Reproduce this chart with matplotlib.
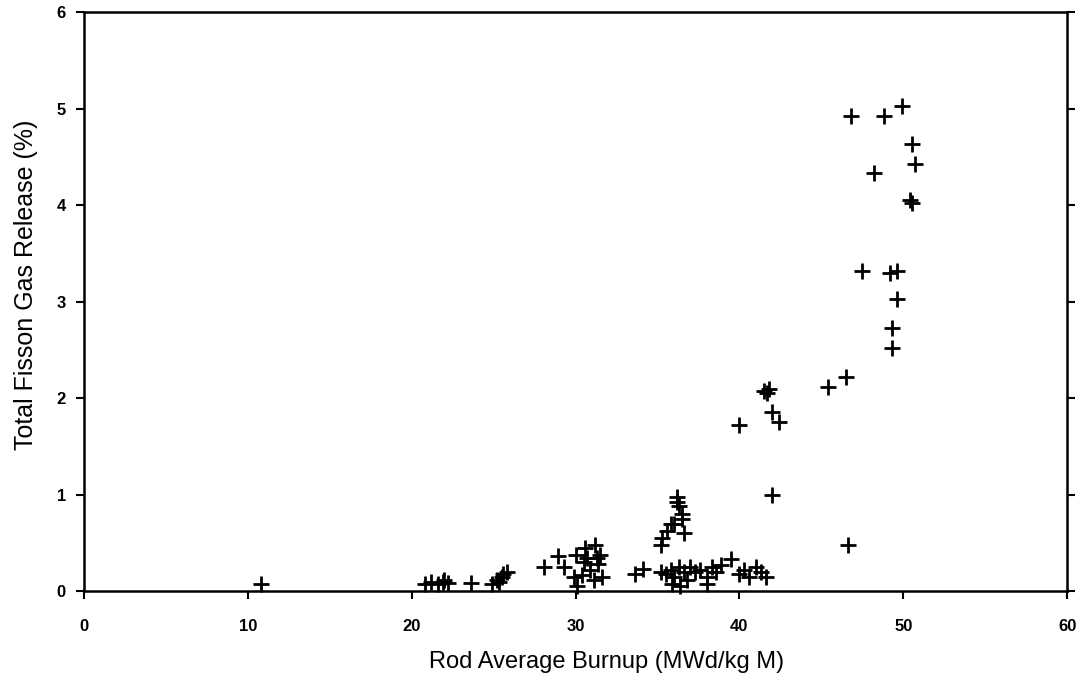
import matplotlib
matplotlib.use("Agg")
import matplotlib.pyplot as plt

plt.rcParams['font.family'] = ['Liberation Sans', 'DejaVu Sans']

# rod average burnup (MWd/kg M) and total fission gas release (%)
burnup = [
    10.8,
    20.8, 21.2, 21.6, 21.9, 22.2, 22.0,
    23.6,
    24.9, 25.2, 25.5, 25.8, 25.6, 25.3,
    28.1, 28.9, 29.3, 30.0, 30.6, 30.7, 31.2, 31.3, 31.4, 29.9, 30.4, 30.9,
    31.6, 30.1, 31.1, 30.5, 31.5,
    33.6, 34.1,
    35.2, 35.5, 35.8, 36.0, 36.3, 36.6, 36.8, 35.9, 36.4, 37.0, 37.3, 37.6,
    38.0, 38.3, 38.6, 38.9, 39.5, 40.0, 40.3, 40.6, 41.0, 41.3, 41.6, 38.0,
    35.2, 35.3, 35.6, 35.8, 36.2, 36.3, 36.5, 36.5, 36.6, 36.2, 36.0,
    40.0, 41.5, 41.8, 41.7, 42.0, 42.4, 42.0, 45.4, 46.5, 46.6,
    46.8, 48.2, 48.8, 49.9, 50.5, 50.7, 50.4, 50.5,
    47.5, 49.2, 49.6, 49.6, 49.3, 49.3,
]
fgr = [
    0.08,
    0.08, 0.10, 0.08, 0.10, 0.09, 0.12,
    0.09,
    0.08, 0.12, 0.15, 0.20, 0.18, 0.10,
    0.25, 0.37, 0.25, 0.38, 0.45, 0.35, 0.48, 0.35, 0.28, 0.15, 0.17, 0.22,
    0.15, 0.05, 0.12, 0.30, 0.38,
    0.18, 0.23,
    0.20, 0.18, 0.22, 0.15, 0.25, 0.20, 0.12, 0.08, 0.05, 0.25, 0.20, 0.22,
    0.15, 0.25, 0.20, 0.27, 0.33, 0.18, 0.22, 0.15, 0.25, 0.20, 0.15, 0.08,
    0.48, 0.55, 0.62, 0.70, 0.93, 0.88, 0.80, 0.75, 0.60, 0.98, 0.70,
    1.72, 2.08, 2.10, 2.05, 1.86, 1.75, 1.00, 2.12, 2.22, 0.48,
    4.93, 4.33, 4.93, 5.03, 4.63, 4.43, 4.05, 4.02,
    3.32, 3.30, 3.32, 3.03, 2.73, 2.52,
]

xticks = [0, 10, 20, 30, 40, 50, 60]
yticks = [0, 1, 2, 3, 4, 5, 6]

fig = plt.figure(figsize=(10.89, 6.82), dpi=100)
ax = fig.add_axes([0.077, 0.133, 0.903, 0.849])

ax.plot(burnup, fgr, linestyle='none', marker='+', color='black',
        markersize=11, markeredgewidth=2.0, clip_on=False)

ax.set_xlim(0, 60)
ax.set_ylim(0, 6)
ax.set_xticks(xticks)
ax.set_yticks(yticks)
ax.tick_params(direction='out', length=6, width=1.5, labelsize=12)
ax.tick_params(axis='x', pad=14)
ax.tick_params(axis='y', pad=7, right=True, labelright=False)
for lab in ax.get_xticklabels() + ax.get_yticklabels():
    lab.set_fontweight('bold')

for sp in ax.spines.values():
    sp.set_linewidth(1.8)

ax.set_xlabel("Rod Average Burnup (MWd/kg M)", fontsize=17)
ax.set_ylabel("Total Fisson Gas Release (%)", fontsize=18)
ax.xaxis.set_label_coords(0.532, -0.103)
ax.yaxis.set_label_coords(-0.047, 0.53)

fig.savefig("out.png", dpi=100)
